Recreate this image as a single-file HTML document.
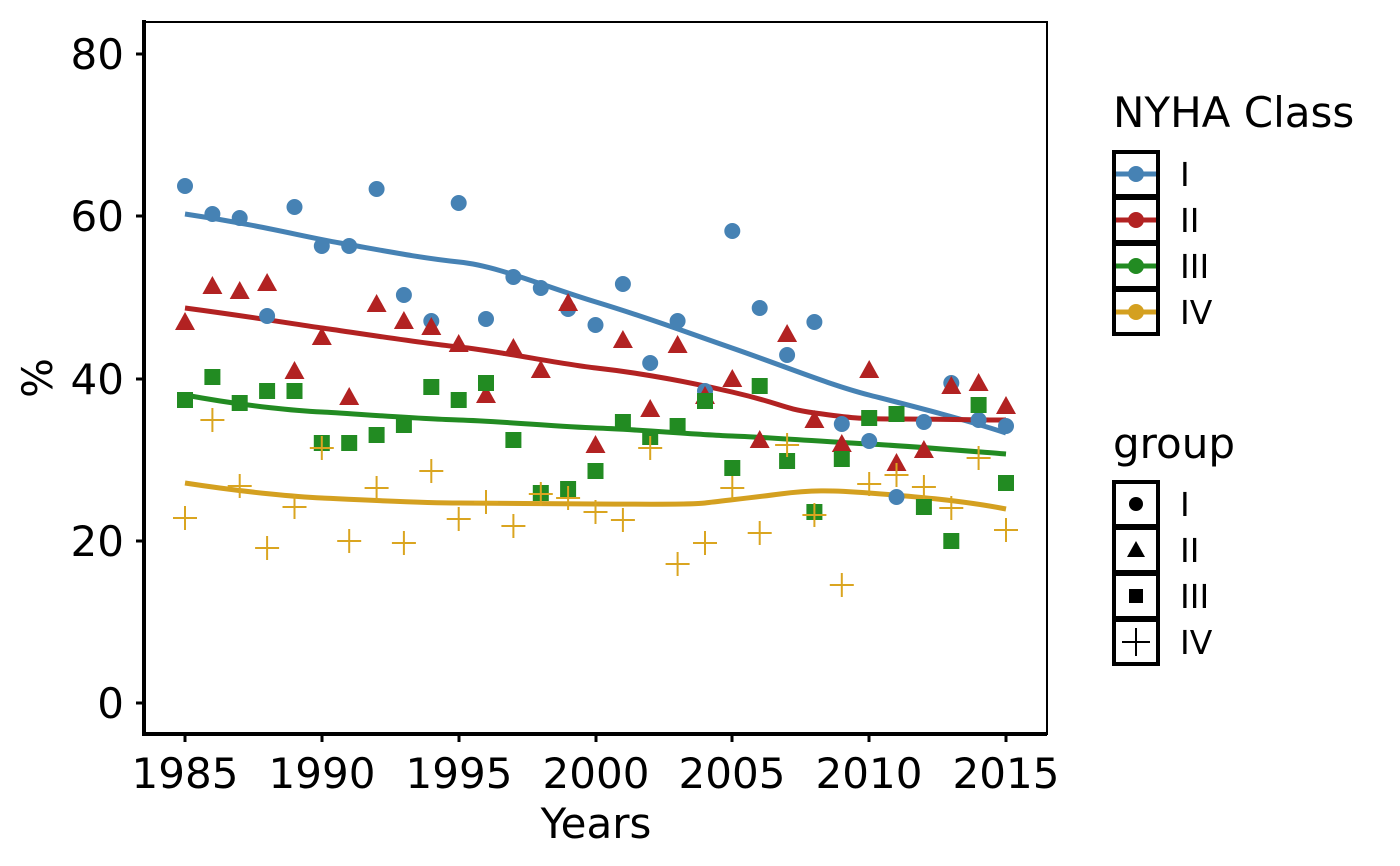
<!DOCTYPE html>
<html><head><meta charset="utf-8"><style>body{margin:0;background:#fff}svg{display:block}text{font-family:"DejaVu Sans","Liberation Sans",sans-serif}</style></head>
<body>
<svg width="1400" height="866" viewBox="0 0 1400 866" xmlns="http://www.w3.org/2000/svg" xmlns:xlink="http://www.w3.org/1999/xlink">
<defs>
<circle id="c" cx="0" cy="0" r="8" fill="#4682B4"/>
<polygon id="t" points="0,-11 10,7 -10,7" fill="#B22222"/>
<rect id="s" x="-8" y="-8" width="16" height="16" fill="#228B22"/>
<path id="p" d="M-12,0 h24 M0,-12 v24" stroke="#DAA520" stroke-width="2" fill="none"/>
</defs>
<rect x="144" y="22" width="903" height="712" fill="none" stroke="#000" stroke-width="2"/>
<line x1="144" y1="20" x2="144" y2="736" stroke="#000" stroke-width="4"/>
<line x1="142" y1="734" x2="1047" y2="734" stroke="#000" stroke-width="4"/>
<g stroke="#000" stroke-width="3">
<line x1="136" y1="54" x2="144" y2="54"/><line x1="136" y1="216" x2="144" y2="216"/><line x1="136" y1="379" x2="144" y2="379"/><line x1="136" y1="541" x2="144" y2="541"/><line x1="136" y1="703" x2="144" y2="703"/>
<line x1="185" y1="734" x2="185" y2="742"/><line x1="322" y1="734" x2="322" y2="742"/><line x1="459" y1="734" x2="459" y2="742"/><line x1="596" y1="734" x2="596" y2="742"/><line x1="732" y1="734" x2="732" y2="742"/><line x1="869" y1="734" x2="869" y2="742"/><line x1="1006" y1="734" x2="1006" y2="742"/>
</g>
<g font-size="42" text-anchor="end" fill="#000">
<text x="124" y="69">80</text><text x="124" y="231">60</text><text x="124" y="394">40</text><text x="124" y="556">20</text><text x="124" y="718">0</text>
</g>
<g font-size="42" text-anchor="middle" fill="#000">
<text x="185" y="788">1985</text><text x="322" y="788">1990</text><text x="459" y="788">1995</text><text x="596" y="788">2000</text><text x="732" y="788">2005</text><text x="869" y="788">2010</text><text x="1006" y="788">2015</text>
<text x="596" y="838">Years</text>
<text transform="translate(52,378) rotate(-90)">%</text>
</g>
<g fill="none" stroke-width="5">
<path stroke="#4682B4" d="M185,214 C260,225 300,236 340,243 S420,258 459,262 S540,285 596,302 S680,330 732,348 S830,385 869,395 S960,418 1006,433"/>
<path stroke="#B22222" d="M185,308 C260,318 300,325 322,328 S420,343 459,347 S560,364 596,368 S680,380 732,392 S780,408 815,413 S860,419 900,419 S980,420 1006,420"/>
<path stroke="#228B22" d="M185,395 C250,407 300,411 322,412 S420,419 459,420 S560,427 596,428 S700,435 732,436 S830,442 869,444 S980,452 1006,454"/>
<path stroke="#D4A020" d="M185,483 C250,493 300,497 322,498 S420,503 459,503 S560,504 596,504 S690,505 705,503 S750,498 780,494 S830,490 869,493 S960,500 1006,509"/>
</g>
<g>
<use xlink:href="#c" x="185" y="186"/><use xlink:href="#c" x="212.4" y="214"/><use xlink:href="#c" x="239.7" y="218"/><use xlink:href="#c" x="267.1" y="316"/><use xlink:href="#c" x="294.5" y="207"/><use xlink:href="#c" x="321.8" y="246"/><use xlink:href="#c" x="349.2" y="246"/><use xlink:href="#c" x="376.6" y="189"/><use xlink:href="#c" x="403.9" y="295"/><use xlink:href="#c" x="431.3" y="321"/><use xlink:href="#c" x="458.7" y="203"/><use xlink:href="#c" x="486" y="319"/><use xlink:href="#c" x="513.4" y="277"/><use xlink:href="#c" x="540.8" y="288"/><use xlink:href="#c" x="568.1" y="309"/><use xlink:href="#c" x="595.5" y="325"/><use xlink:href="#c" x="622.9" y="284"/><use xlink:href="#c" x="650.2" y="363"/><use xlink:href="#c" x="677.6" y="321"/><use xlink:href="#c" x="705" y="391"/><use xlink:href="#c" x="732.3" y="231"/><use xlink:href="#c" x="759.7" y="308"/><use xlink:href="#c" x="787.1" y="355"/><use xlink:href="#c" x="814.4" y="322"/><use xlink:href="#c" x="841.8" y="424"/><use xlink:href="#c" x="869.2" y="441"/><use xlink:href="#c" x="896.5" y="497"/><use xlink:href="#c" x="923.9" y="422"/><use xlink:href="#c" x="951.3" y="383"/><use xlink:href="#c" x="978.6" y="420"/><use xlink:href="#c" x="1006" y="426"/>
<use xlink:href="#t" x="185" y="323"/><use xlink:href="#t" x="212.4" y="287"/><use xlink:href="#t" x="239.7" y="292"/><use xlink:href="#t" x="267.1" y="284"/><use xlink:href="#t" x="294.5" y="372"/><use xlink:href="#t" x="321.8" y="338"/><use xlink:href="#t" x="349.2" y="398"/><use xlink:href="#t" x="376.6" y="305"/><use xlink:href="#t" x="403.9" y="322"/><use xlink:href="#t" x="431.3" y="328"/><use xlink:href="#t" x="458.7" y="345"/><use xlink:href="#t" x="486" y="396"/><use xlink:href="#t" x="513.4" y="349"/><use xlink:href="#t" x="540.8" y="371"/><use xlink:href="#t" x="568.1" y="304"/><use xlink:href="#t" x="595.5" y="446"/><use xlink:href="#t" x="622.9" y="341"/><use xlink:href="#t" x="650.2" y="410"/><use xlink:href="#t" x="677.6" y="346"/><use xlink:href="#t" x="705" y="397"/><use xlink:href="#t" x="732.3" y="380"/><use xlink:href="#t" x="759.7" y="441"/><use xlink:href="#t" x="787.1" y="335"/><use xlink:href="#t" x="814.4" y="421"/><use xlink:href="#t" x="841.8" y="445"/><use xlink:href="#t" x="869.2" y="371"/><use xlink:href="#t" x="896.5" y="464"/><use xlink:href="#t" x="923.9" y="451"/><use xlink:href="#t" x="951.3" y="387"/><use xlink:href="#t" x="978.6" y="384"/><use xlink:href="#t" x="1006" y="407"/>
<use xlink:href="#s" x="185" y="400"/><use xlink:href="#s" x="212.4" y="377"/><use xlink:href="#s" x="239.7" y="403"/><use xlink:href="#s" x="267.1" y="391"/><use xlink:href="#s" x="294.5" y="391"/><use xlink:href="#s" x="321.8" y="443"/><use xlink:href="#s" x="349.2" y="443"/><use xlink:href="#s" x="376.6" y="435"/><use xlink:href="#s" x="403.9" y="425"/><use xlink:href="#s" x="431.3" y="387"/><use xlink:href="#s" x="458.7" y="400"/><use xlink:href="#s" x="486" y="383"/><use xlink:href="#s" x="513.4" y="440"/><use xlink:href="#s" x="540.8" y="493"/><use xlink:href="#s" x="568.1" y="489"/><use xlink:href="#s" x="595.5" y="471"/><use xlink:href="#s" x="622.9" y="422"/><use xlink:href="#s" x="650.2" y="437"/><use xlink:href="#s" x="677.6" y="426"/><use xlink:href="#s" x="705" y="401"/><use xlink:href="#s" x="732.3" y="468"/><use xlink:href="#s" x="759.7" y="386"/><use xlink:href="#s" x="787.1" y="461"/><use xlink:href="#s" x="814.4" y="512"/><use xlink:href="#s" x="841.8" y="459"/><use xlink:href="#s" x="869.2" y="418"/><use xlink:href="#s" x="896.5" y="414"/><use xlink:href="#s" x="923.9" y="507"/><use xlink:href="#s" x="951.3" y="541"/><use xlink:href="#s" x="978.6" y="405"/><use xlink:href="#s" x="1006" y="483"/>
<use xlink:href="#p" x="185" y="518"/><use xlink:href="#p" x="212.4" y="420"/><use xlink:href="#p" x="239.7" y="486"/><use xlink:href="#p" x="267.1" y="548"/><use xlink:href="#p" x="294.5" y="507"/><use xlink:href="#p" x="321.8" y="448"/><use xlink:href="#p" x="349.2" y="541"/><use xlink:href="#p" x="376.6" y="488"/><use xlink:href="#p" x="403.9" y="543"/><use xlink:href="#p" x="431.3" y="471"/><use xlink:href="#p" x="458.7" y="519"/><use xlink:href="#p" x="486" y="502"/><use xlink:href="#p" x="513.4" y="526"/><use xlink:href="#p" x="540.8" y="494"/><use xlink:href="#p" x="568.1" y="498"/><use xlink:href="#p" x="595.5" y="512"/><use xlink:href="#p" x="622.9" y="520"/><use xlink:href="#p" x="650.2" y="448"/><use xlink:href="#p" x="677.6" y="564"/><use xlink:href="#p" x="705" y="543"/><use xlink:href="#p" x="732.3" y="488"/><use xlink:href="#p" x="759.7" y="533"/><use xlink:href="#p" x="787.1" y="445"/><use xlink:href="#p" x="814.4" y="515"/><use xlink:href="#p" x="841.8" y="585"/><use xlink:href="#p" x="869.2" y="484"/><use xlink:href="#p" x="896.5" y="475"/><use xlink:href="#p" x="923.9" y="487"/><use xlink:href="#p" x="951.3" y="508"/><use xlink:href="#p" x="978.6" y="458"/><use xlink:href="#p" x="1006" y="530"/>
</g>
<g font-size="42" fill="#000"><text x="1113" y="127">NYHA Class</text><text x="1113" y="458">group</text></g>
<g stroke="#000" stroke-width="4" fill="#fff">
<rect x="1114" y="152" width="44" height="44"/><rect x="1114" y="198" width="44" height="44"/><rect x="1114" y="244" width="44" height="44"/><rect x="1114" y="290" width="44" height="44"/>
<rect x="1114" y="482" width="44" height="44"/><rect x="1114" y="528" width="44" height="44"/><rect x="1114" y="574" width="44" height="44"/><rect x="1114" y="620" width="44" height="44"/>
</g>
<g stroke-width="5">
<line x1="1116" y1="174" x2="1156" y2="174" stroke="#4682B4"/><circle cx="1136" cy="174" r="8" fill="#4682B4"/>
<line x1="1116" y1="220" x2="1156" y2="220" stroke="#B22222"/><circle cx="1136" cy="220" r="8" fill="#B22222"/>
<line x1="1116" y1="266" x2="1156" y2="266" stroke="#228B22"/><circle cx="1136" cy="266" r="8" fill="#228B22"/>
<line x1="1116" y1="312" x2="1156" y2="312" stroke="#D4A020"/><circle cx="1136" cy="312" r="8" fill="#D4A020"/>
</g>
<circle cx="1136" cy="504" r="7" fill="#000"/>
<polygon points="1136,541 1145,557 1127,557" fill="#000"/>
<rect x="1129" y="589" width="14" height="14" fill="#000"/>
<path d="M1122,642 h28 M1136,628 v28" stroke="#000" stroke-width="2"/>
<g font-size="33" fill="#000">
<text x="1180" y="186">I</text><text x="1180" y="232">II</text><text x="1180" y="278">III</text><text x="1180" y="324">IV</text>
<text x="1180" y="516">I</text><text x="1180" y="562">II</text><text x="1180" y="608">III</text><text x="1180" y="654">IV</text>
</g>
</svg>
</body></html>
